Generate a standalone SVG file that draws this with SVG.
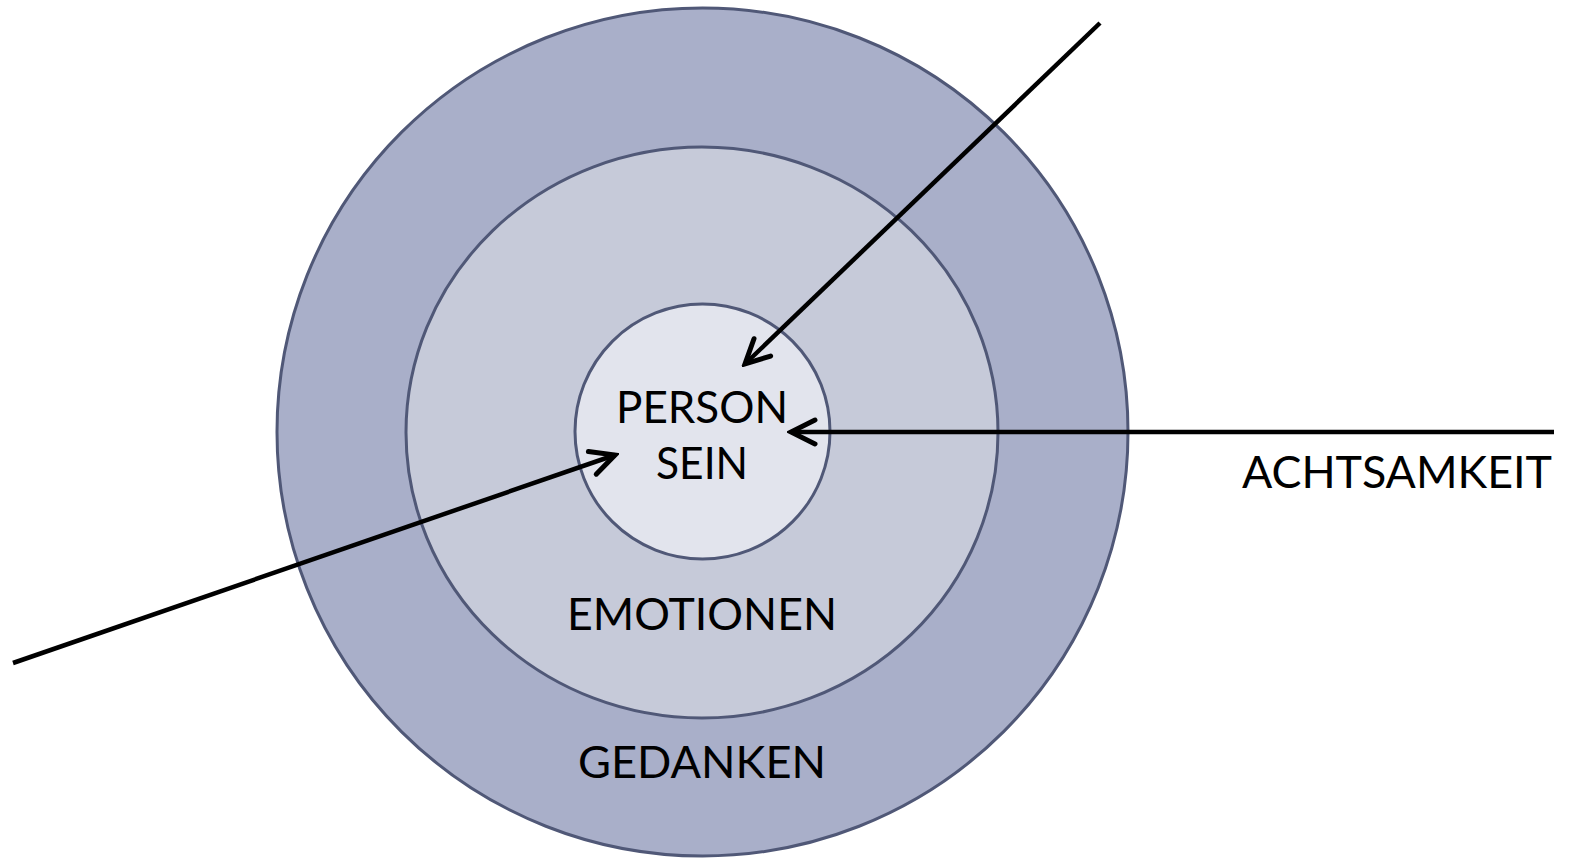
<svg xmlns="http://www.w3.org/2000/svg" width="1592" height="868" viewBox="0 0 1592 868">
<style>
.ring{stroke:#505877;stroke-width:3}
.lbl{font-family:Lato,"Open Sans","Liberation Sans",sans-serif;font-size:45px;fill:#000;text-anchor:middle}
.conn{stroke:#000;stroke-width:4.5;fill:none;marker-end:url(#arr)}
</style>
<defs>
<marker id="arr" markerUnits="userSpaceOnUse" viewBox="-30 -16 34 32" markerWidth="34" markerHeight="32" refX="0" refY="0" orient="auto">
<path d="M-24,-12 L0,0 L-24,12" fill="none" stroke="#000" stroke-width="5" stroke-linecap="round" stroke-linejoin="miter"/>
</marker>
</defs>
<rect width="1592" height="868" fill="#fff"/>
<g id="gedanken">
<ellipse class="ring" cx="702.5" cy="432" rx="425.5" ry="424" fill="#A9AFC9"/>
<text class="lbl" x="702" y="778" textLength="248" lengthAdjust="spacingAndGlyphs">GEDANKEN</text>
</g>
<g id="emotionen">
<ellipse class="ring" cx="702" cy="432.5" rx="296" ry="285.5" fill="#C6CAD9"/>
<text class="lbl" x="702" y="630" textLength="270" lengthAdjust="spacingAndGlyphs">EMOTIONEN</text>
</g>
<g id="person">
<ellipse class="ring" cx="702.5" cy="431.5" rx="127.5" ry="127.5" fill="#E2E4ED"/>
<text class="lbl" x="702" y="423" textLength="172" lengthAdjust="spacingAndGlyphs">PERSON</text>
<text class="lbl" x="702" y="479" textLength="92" lengthAdjust="spacingAndGlyphs">SEIN</text>
</g>
<g id="achtsamkeit">
<text class="lbl" x="1397" y="488" textLength="310" lengthAdjust="spacingAndGlyphs">ACHTSAMKEIT</text>
</g>
<g id="connectors">
<line class="conn" x1="1100" y1="23" x2="745" y2="364"/>
<line class="conn" x1="1554" y1="432" x2="791" y2="432"/>
<line class="conn" x1="13" y1="663" x2="615" y2="455"/>
</g>
</svg>
